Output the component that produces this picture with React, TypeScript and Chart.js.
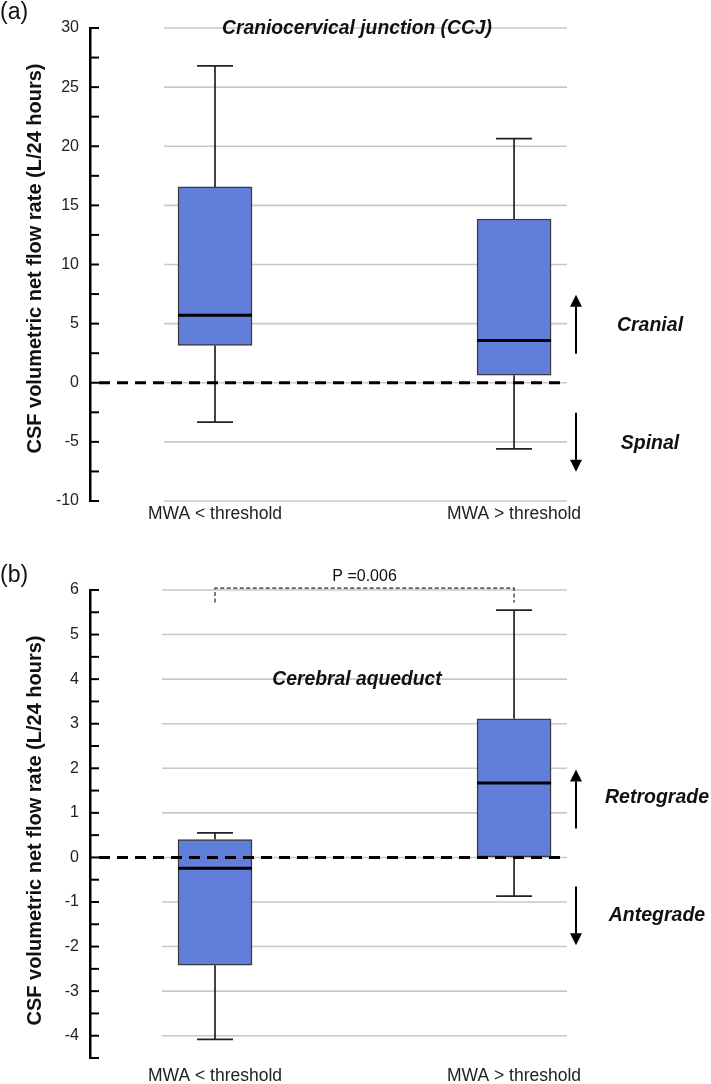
import React, { useEffect, useRef } from "react";
import { Chart, registerables } from "chart.js";

Chart.register(...registerables);

const FONT = '"Liberation Sans", Arial, Helvetica, sans-serif';

const categories = ["MWA < threshold", "MWA > threshold"];

// (a) Craniocervical junction (CCJ) - CSF net flow (L/24 hours)
const ccjMin = [-3.33, -5.6];
const ccjQ1 = [3.15, 0.64];
const ccjMedian = [5.7, 3.57];
const ccjQ3 = [16.56, 13.85];
const ccjMax = [26.8, 20.64];
const ccjTickLabels = ["-10", "-5", "0", "5", "10", "15", "20", "25", "30"];

// (b) Cerebral aqueduct - CSF net flow (L/24 hours)
const aqMin = [-4.08, -0.87];
const aqQ1 = [-2.42, 0.0];
const aqMedian = [-0.24, 1.67];
const aqQ3 = [0.4, 3.11];
const aqMax = [0.55, 5.55];
const aqTickLabels = ["-4", "-3", "-2", "-1", "0", "1", "2", "3", "4", "5", "6"];

const yAxisTitle = "CSF volumetric net flow rate (L/24 hours)";
const pValueText = "P =0.006";

interface PanelCfg {
  letter: string;
  title: string;
  titleValue: number;
  lo: number[];
  q1: number[];
  med: number[];
  q3: number[];
  hi: number[];
  yMin: number;
  yMax: number;
  minorStep: number;
  gridStep: number;
  tickLabels: string[];
  upLabel: string;
  downLabel: string;
  upArrow: [number, number];
  downArrow: [number, number];
  upLabelValue: number;
  downLabelValue: number;
  labelDx: number;
  height: number;
  top: number;
  padTop: number;
  xAxisHeight: number;
  xLabelPad: number;
  gridLeft: number;
  yTitleY: number;
  letterY: number;
  pValue?: { text: string; lineValue: number; dropValue: number; textValue: number };
}

const panelA: PanelCfg = {
  letter: "(a)",
  title: "Craniocervical junction (CCJ)",
  titleValue: 30.08,
  lo: ccjMin,
  q1: ccjQ1,
  med: ccjMedian,
  q3: ccjQ3,
  hi: ccjMax,
  yMin: -10,
  yMax: 30,
  minorStep: 2.5,
  gridStep: 5,
  tickLabels: ccjTickLabels,
  upLabel: "Cranial",
  downLabel: "Spinal",
  upArrow: [2.45, 7.44],
  downArrow: [-2.54, -7.52],
  upLabelValue: 4.99,
  downLabelValue: -5.0,
  labelDx: 83,
  height: 530,
  top: 0,
  padTop: 28,
  xAxisHeight: 29,
  xLabelPad: 3,
  gridLeft: 164,
  yTitleY: 258.5,
  letterY: 13,
};

const panelB: PanelCfg = {
  letter: "(b)",
  title: "Cerebral aqueduct",
  titleValue: 4.02,
  lo: aqMin,
  q1: aqQ1,
  med: aqMedian,
  q3: aqQ3,
  hi: aqMax,
  yMin: -4.5,
  yMax: 6,
  minorStep: 0.5,
  gridStep: 1,
  tickLabels: aqTickLabels,
  upLabel: "Retrograde",
  downLabel: "Antegrade",
  upArrow: [0.65, 1.97],
  downArrow: [-0.65, -1.97],
  upLabelValue: 1.37,
  downLabelValue: -1.28,
  labelDx: 90,
  height: 554,
  top: 530,
  padTop: 60,
  xAxisHeight: 26,
  xLabelPad: 7.5,
  gridLeft: 162,
  yTitleY: 300.5,
  letterY: 46,
  pValue: { text: pValueText, lineValue: 6.04, dropValue: 5.72, textValue: 6.32 },
};

// cap-centred text helper
function capText(
  ctx: CanvasRenderingContext2D,
  text: string,
  x: number,
  cy: number,
  size: number,
  style: string,
  align: CanvasTextAlign
) {
  ctx.font = `${style} ${size}px ${FONT}`;
  ctx.textAlign = align;
  ctx.textBaseline = "alphabetic";
  ctx.fillText(text, x, cy + 0.358 * size);
}

function drawArrow(ctx: CanvasRenderingContext2D, x: number, yFrom: number, yTip: number) {
  const dir = yTip < yFrom ? -1 : 1;
  const head = 12;
  const hw = 6;
  ctx.beginPath();
  ctx.moveTo(x, yFrom);
  ctx.lineTo(x, yTip - dir * head);
  ctx.stroke();
  ctx.beginPath();
  ctx.moveTo(x, yTip);
  ctx.lineTo(x - hw, yTip - dir * head);
  ctx.lineTo(x + hw, yTip - dir * head);
  ctx.closePath();
  ctx.fill();
}

function extrasPlugin(p: PanelCfg) {
  return {
    id: "boxExtras",
    beforeDatasetsDraw(chart: any) {
      const { ctx, chartArea: a, scales } = chart;
      const x = scales.x;
      const y = scales.y;
      ctx.save();
      // horizontal grid lines
      ctx.strokeStyle = "#c8c8c8";
      ctx.lineWidth = 1.6;
      const start = Math.ceil(p.yMin / p.gridStep) * p.gridStep;
      for (let v = start; v <= p.yMax + 1e-9; v += p.gridStep) {
        const py = y.getPixelForValue(v);
        ctx.beginPath();
        ctx.moveTo(p.gridLeft, py);
        ctx.lineTo(a.right, py);
        ctx.stroke();
      }
      // whiskers
      ctx.strokeStyle = "#222";
      ctx.lineWidth = 1.7;
      categories.forEach((_, i) => {
        const cx = x.getPixelForValue(i + 1);
        const yHi = y.getPixelForValue(p.hi[i]);
        const yLo = y.getPixelForValue(p.lo[i]);
        ctx.beginPath();
        ctx.moveTo(cx, y.getPixelForValue(p.q3[i]));
        ctx.lineTo(cx, yHi);
        ctx.moveTo(cx - 18, yHi);
        ctx.lineTo(cx + 18, yHi);
        ctx.moveTo(cx, y.getPixelForValue(p.q1[i]));
        ctx.lineTo(cx, yLo);
        ctx.moveTo(cx - 18, yLo);
        ctx.lineTo(cx + 18, yLo);
        ctx.stroke();
      });
      ctx.restore();
    },
    afterDatasetsDraw(chart: any) {
      const { ctx, chartArea: a, scales } = chart;
      const x = scales.x;
      const y = scales.y;
      ctx.save();
      // medians
      ctx.strokeStyle = "#000";
      ctx.lineWidth = 3;
      categories.forEach((_, i) => {
        const cx = x.getPixelForValue(i + 1);
        const py = y.getPixelForValue(p.med[i]);
        ctx.beginPath();
        ctx.moveTo(cx - 37, py);
        ctx.lineTo(cx + 37, py);
        ctx.stroke();
      });
      // zero dashed line
      const y0 = y.getPixelForValue(0);
      ctx.setLineDash([11, 7]);
      ctx.lineWidth = 3;
      ctx.beginPath();
      ctx.moveTo(a.left + 9, y0);
      ctx.lineTo(a.right, y0);
      ctx.stroke();
      ctx.setLineDash([]);
      // inward tick marks on the y axis
      ctx.lineWidth = 2;
      y.ticks.forEach((t: any) => {
        const py = y.getPixelForValue(t.value);
        ctx.beginPath();
        ctx.moveTo(a.left, py);
        ctx.lineTo(a.left + 9, py);
        ctx.stroke();
      });
      // direction arrows
      ctx.fillStyle = "#000";
      ctx.lineWidth = 2;
      const ax = a.right + 9;
      drawArrow(ctx, ax, y.getPixelForValue(p.upArrow[0]), y.getPixelForValue(p.upArrow[1]));
      drawArrow(ctx, ax, y.getPixelForValue(p.downArrow[0]), y.getPixelForValue(p.downArrow[1]));
      ctx.fillStyle = "#111";
      capText(ctx, p.upLabel, a.right + p.labelDx, y.getPixelForValue(p.upLabelValue), 19.5, "italic bold", "center");
      capText(ctx, p.downLabel, a.right + p.labelDx, y.getPixelForValue(p.downLabelValue), 19.5, "italic bold", "center");
      // panel title
      capText(ctx, p.title, 357, y.getPixelForValue(p.titleValue), 19.3, "italic bold", "center");
      // panel letter
      ctx.fillStyle = "#111";
      ctx.font = `23px ${FONT}`;
      ctx.textAlign = "left";
      ctx.textBaseline = "middle";
      ctx.fillText(p.letter, 0, p.letterY);
      // y-axis title
      ctx.save();
      ctx.translate(34, p.yTitleY);
      ctx.rotate(-Math.PI / 2);
      ctx.font = `bold 20px ${FONT}`;
      ctx.textAlign = "center";
      ctx.textBaseline = "alphabetic";
      ctx.fillText(yAxisTitle, 0, 0.358 * 20);
      ctx.restore();
      // p-value bracket
      if (p.pValue) {
        const pv = p.pValue;
        const x1 = x.getPixelForValue(1);
        const x2 = x.getPixelForValue(2);
        const yl = y.getPixelForValue(pv.lineValue);
        const yd = y.getPixelForValue(pv.dropValue);
        ctx.strokeStyle = "#222";
        ctx.lineWidth = 1.2;
        ctx.setLineDash([4, 2.5]);
        ctx.beginPath();
        ctx.moveTo(x1, yd);
        ctx.lineTo(x1, yl);
        ctx.lineTo(x2, yl);
        ctx.lineTo(x2, yd);
        ctx.stroke();
        ctx.setLineDash([]);
        ctx.fillStyle = "#111";
        capText(ctx, pv.text, (x1 + x2) / 2, y.getPixelForValue(pv.textValue), 16, "", "center");
      }
      ctx.restore();
    },
  };
}

function BoxPanel({ p }: { p: PanelCfg }) {
  const ref = useRef<HTMLCanvasElement>(null);
  useEffect(() => {
    const canvas = ref.current;
    if (!canvas) return;
    const chart = new Chart(canvas, {
      type: "bar",
      data: {
        datasets: [
          {
            data: categories.map((_, i) => ({ x: i + 1, y: [p.q1[i], p.q3[i]] })) as any,
            backgroundColor: "#617EDB",
            borderColor: "#3a3a3a",
            borderWidth: 1.5,
            borderSkipped: false,
            barThickness: 74,
          },
        ],
      },
      options: {
        responsive: false,
        animation: false,
        devicePixelRatio: 1,
        layout: { padding: { top: p.padTop, right: 144, left: 0, bottom: 0 } },
        plugins: {
          legend: { display: false },
          tooltip: { enabled: false },
          title: { display: false },
        },
        scales: {
          x: {
            type: "linear",
            min: 0.582,
            max: 2.177,
            offset: false,
            grid: { display: false, drawTicks: false, offset: false },
            border: { display: false },
            afterBuildTicks: (s: any) => {
              s.ticks = categories.map((_, i) => ({ value: i + 1 }));
            },
            afterFit: (s: any) => {
              s.height = p.xAxisHeight;
            },
            ticks: {
              autoSkip: false,
              maxRotation: 0,
              padding: p.xLabelPad,
              color: "#222",
              font: { family: FONT, size: 17.5 },
              callback: (v: any) => categories[Math.round(Number(v)) - 1] ?? "",
            },
          },
          y: {
            type: "linear",
            min: p.yMin,
            max: p.yMax,
            afterFit: (s: any) => {
              s.width = 90;
            },
            grid: { display: true, drawOnChartArea: false, drawTicks: false },
            border: { display: true, color: "#000", width: 2.5 },
            ticks: {
              stepSize: p.minorStep,
              autoSkip: false,
              padding: 11,
              color: "#222",
              font: { family: FONT, size: 16 },
              callback: (v: any) => {
                const s = String(Math.round(Number(v) * 100) / 100);
                return p.tickLabels.includes(s) ? s : "";
              },
            },
          },
        },
      } as any,
      plugins: [extrasPlugin(p)],
    });
    return () => chart.destroy();
  }, [p]);
  return (
    <canvas
      ref={ref}
      width={711}
      height={p.height}
      style={{ position: "absolute", left: 0, top: p.top, width: 711, height: p.height }}
    />
  );
}

export default function App() {
  return (
    <div style={{ position: "absolute", left: 0, top: 0, width: 711, height: 1084, background: "#fff" }}>
      <BoxPanel p={panelA} />
      <BoxPanel p={panelB} />
    </div>
  );
}
